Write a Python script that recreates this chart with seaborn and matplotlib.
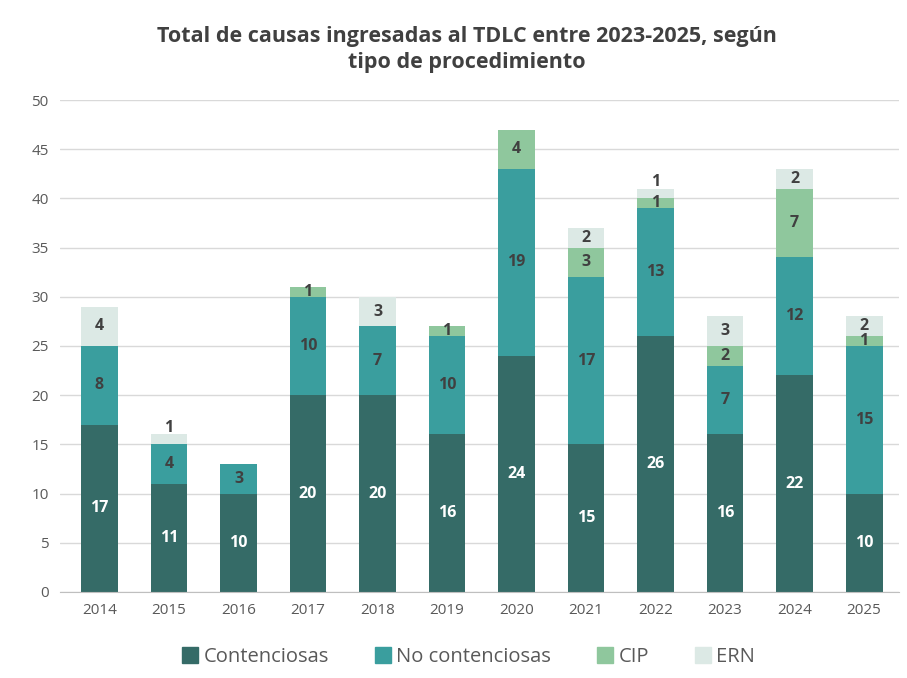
import matplotlib.pyplot as plt
import seaborn as sns
import numpy as np
from matplotlib.lines import Line2D

years = ["2014", "2015", "2016", "2017", "2018", "2019", "2020", "2021", "2022", "2023", "2024", "2025"]
contenciosas = [17, 11, 10, 20, 20, 16, 24, 15, 26, 16, 22, 10]
no_contenciosas = [8, 4, 3, 10, 7, 10, 19, 17, 13, 7, 12, 15]
cip = [0, 0, 0, 1, 0, 1, 4, 3, 1, 2, 7, 1]
ern = [4, 1, 0, 0, 3, 0, 0, 2, 1, 3, 2, 2]

series = ["Contenciosas", "No contenciosas", "CIP", "ERN"]
colors = ["#356b67", "#3a9e9e", "#8fc79d", "#dce9e5"]
label_colors = ["white", "#404040", "#404040", "#404040"]

sns.set_style("white")
plt.rcParams["font.family"] = ["Open Sans", "DejaVu Sans"]

fig = plt.figure(figsize=(9.07, 6.78), dpi=100)
ax = fig.add_axes([0.066, 0.127, 0.925, 0.7255])

bottom = np.zeros(len(years))
for name, vals, col, lcol in zip(series, [contenciosas, no_contenciosas, cip, ern], colors, label_colors):
    vals = np.array(vals, dtype=float)
    sns.barplot(x=years, y=vals, bottom=bottom, color=col, width=0.53, ax=ax,
                saturation=1, label=name, zorder=2, linewidth=0, edgecolor="none")
    for i, v in enumerate(vals):
        if v <= 0:
            continue
        y = bottom[i] + v / 2
        # small top segments: label sits just above the bar
        if name == "ERN" and v == 1:
            y = bottom[i] + v + 0.7
        ax.text(i, y, f"{int(v)}", ha="center", va="center", fontsize=11.5,
                fontweight="bold", color=lcol, zorder=3)
    bottom += vals

ax.set_ylim(0, 50)
ax.set_xlim(-0.57, 11.5)
ax.set_yticks(range(0, 51, 5))
ax.yaxis.grid(True, color="#d9d9d9", linewidth=1, zorder=0)
ax.set_axisbelow(True)
for s in ["top", "right", "left"]:
    ax.spines[s].set_visible(False)
ax.spines["bottom"].set_color("#bfbfbf")
ax.tick_params(axis="both", length=0, labelsize=11, labelcolor="#595959", pad=8)
ax.set_xlabel("")
ax.set_ylabel("")

fig.suptitle("Total de causas ingresadas al TDLC entre 2023-2025, según\ntipo de procedimiento",
             x=0.515, y=0.962, fontsize=15.5, fontweight="bold", color="#404040", linespacing=1.3)

handles = [Line2D([], [], marker="s", linestyle="", markersize=11, color=c) for c in colors]
ax.legend(handles, series, loc="upper center", bbox_to_anchor=(0.485, -0.075), ncol=4,
          frameon=False, fontsize=14.5, labelcolor="#595959", handletextpad=0.05,
          columnspacing=2.1, handlelength=1.2)

fig.savefig("out.png", dpi=100)
